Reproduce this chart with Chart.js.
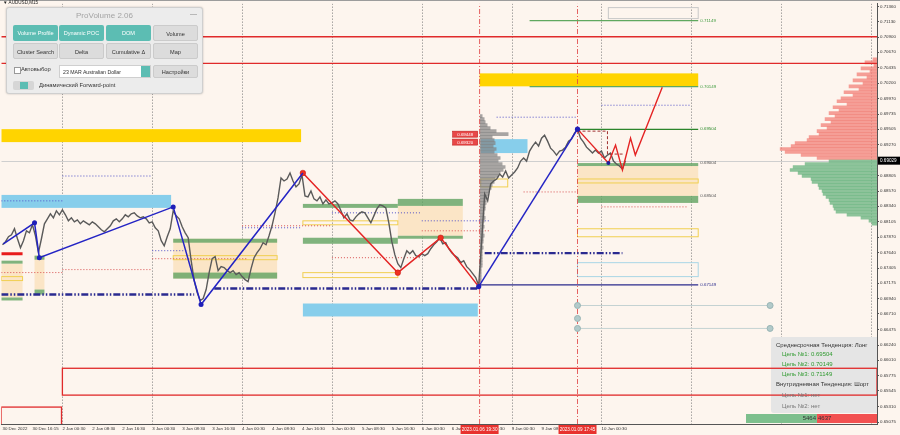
<!DOCTYPE html>
<html>
<head>
<meta charset="utf-8">
<script src="https://cdn.jsdelivr.net/npm/chart.js@4.4.1/dist/chart.umd.min.js"></script>
<style>
html, body { margin: 0; padding: 0; background: #fdf5ee; }
#wrap { position: relative; width: 900px; height: 435px; overflow: hidden; background: #fdf5ee;
  font-family: "Liberation Sans", Arial, sans-serif; }
#c { position: absolute; left: 0; top: 0; }
.sym { position: absolute; left: 3px; top: 0px; font-size: 4.6px; color: #222; white-space: nowrap; }
.panel { position: absolute; left: 6px; top: 7px; width: 195px; height: 85px; background: #ececec;
  border: 1px solid #cfcfcf; border-radius: 3px; box-shadow: 0 0 2px rgba(0,0,0,.25); }
.ttl { position: absolute; left: 0; right: 0; top: 3px; text-align: center; font-size: 8px; color: #a4a4a4; }
.min { position: absolute; right: 5px; top: 2px; font-size: 7px; color: #888; }
.btn { position: absolute; width: 45px; height: 16px; line-height: 16px; border-radius: 2px; font-size: 5.6px;
  text-align: center; box-sizing: border-box; white-space: nowrap; }
.teal { background: #5cbdb3; color: #fff; }
.gray { background: #dcdcdc; color: #333; border: 1px solid #cbcbcb; }
.lbl { position: absolute; font-size: 5.8px; color: #333; white-space: nowrap; line-height: 9px; }
.chk { position: absolute; left: 7px; top: 59px; width: 5px; height: 5px; background: #fff; border: 1px solid #999; }
.sel { position: absolute; left: 52px; top: 57px; width: 92px; height: 13px; line-height: 13px; background: #fff;
  border: 1px solid #cfcfcf; box-sizing: border-box; font-size: 5.2px; color: #333; padding-left: 3px; white-space: nowrap; }
.spin { position: absolute; right: 0; top: 0; width: 9px; height: 11px; background: #5cbdb3; }
.tog { position: absolute; left: 6px; top: 73px; width: 21px; height: 9px; background: #d6d6d6; border-radius: 2px; }
.tog span { position: absolute; left: 7px; top: 1px; width: 8px; height: 7px; background: #5cbdb3; }
.info { position: absolute; font-size: 6px; white-space: nowrap; line-height: 8px; }
</style>
</head>
<body>
<div id="wrap">
  <canvas id="c" width="900" height="435"></canvas>
  <div class="sym">▼ AUDUSD,M15</div>
  <div class="panel">
    <div class="ttl">ProVolume 2.06</div><div class="min">—</div>
    <div class="btn teal" style="left:6px;top:17px">Volume Profile</div>
    <div class="btn teal" style="left:52px;top:17px">Dynamic POC</div>
    <div class="btn teal" style="left:99px;top:17px">DOM</div>
    <div class="btn gray" style="left:146px;top:17px">Volume</div>
    <div class="btn gray" style="left:6px;top:35px">Cluster Search</div>
    <div class="btn gray" style="left:52px;top:35px">Delta</div>
    <div class="btn gray" style="left:99px;top:35px">Cumulative Δ</div>
    <div class="btn gray" style="left:146px;top:35px">Map</div>
    <div class="chk"></div><div class="lbl" style="left:14px;top:57px">Автовыбор</div>
    <div class="sel">23 MAR Australian Dollar<span class="spin"></span></div>
    <div class="btn gray" style="left:146px;top:57px;height:13px;line-height:12px">Настройки</div>
    <div class="tog"><span></span></div><div class="lbl" style="left:32px;top:73px">Динамический Forward-point</div>
  </div>
  <div class="info" style="left:776px;top:341px;color:#333">Среднесрочная Тенденция: Лонг</div>
  <div class="info" style="left:782px;top:350px;color:#2f9a2f">Цель №1: 0.69504</div>
  <div class="info" style="left:782px;top:360px;color:#2f9a2f">Цель №2: 0.70149</div>
  <div class="info" style="left:782px;top:370px;color:#2f9a2f">Цель №3: 0.71149</div>
  <div class="info" style="left:776px;top:380px;color:#333">Внутридневная Тенденция: Шорт</div>
  <div class="info" style="left:782px;top:391px;color:#777">Цель №1: нет</div>
  <div class="info" style="left:782px;top:402px;color:#777">Цель №2: нет</div>
  <div class="info" style="left:746px;top:414px;width:71px;height:9px;line-height:9px;background:#7dbf8d;color:#333;text-align:right;padding-right:1px;box-sizing:border-box">5464</div>
  <div class="info" style="left:817px;top:414px;width:60px;height:9px;line-height:9px;background:#f25050;color:#333;padding-left:1px;box-sizing:border-box">4637</div>
</div>
<script>
// ── axis data ────────────────────────────────────────────────
const xLabels = ['30 Dec 2022', '30 Dec 16:15', '2 Jan 00:30', '2 Jan 08:30', '2 Jan 16:30', '3 Jan 00:30',
  '3 Jan 08:30', '3 Jan 16:30', '4 Jan 00:30', '4 Jan 08:30', '4 Jan 16:30', '5 Jan 00:30', '5 Jan 08:30',
  '5 Jan 16:30', '6 Jan 00:30', '6 Jan 08:30', '6 Jan 16:30', '9 Jan 00:30', '9 Jan 08:30', '9 Jan 16:30',
  '10 Jan 00:30'];
const dayLines = [2, 5, 8, 11, 14, 17, 20, 23, 26, 29];
const yTicks = [0.71360, 0.71130, 0.70900, 0.70670, 0.70435, 0.70200, 0.69970, 0.69735, 0.69505, 0.69270,
  0.68805, 0.68570, 0.68340, 0.68105, 0.67870, 0.67640, 0.67405, 0.67175, 0.66940, 0.66710, 0.66475,
  0.66240, 0.66010, 0.65775, 0.65545, 0.65310, 0.65075];
const xMin = -0.04, xMax = 29.2, yMin = 0.65045, yMax = 0.71405;
const lastPrice = 0.69029;
const timeMarks = [[15.93, '2023.01.06 19:30'], [19.2, '2023.01.09 17:45']];

// ── price (close every 0.1 label step) ───────────────────────
const closeStart = 0, closeStep = 0.1;
const closes = [
  0.67757, 0.67803, 0.67878, 0.67908, 0.67999, 0.67848, 0.67712, 0.67818, 0.67968, 0.67938,
  0.68059, 0.67893, 0.67637, 0.67848, 0.68074, 0.68149, 0.68225, 0.68164, 0.68270, 0.68210,
  0.68285, 0.68210, 0.68119, 0.68164, 0.68104, 0.68134, 0.68074, 0.68119, 0.68089, 0.68059,
  0.68104, 0.68074, 0.68029, 0.67984, 0.67953, 0.67999, 0.68044, 0.68119, 0.68149, 0.68104,
  0.68149, 0.68210, 0.68179, 0.68225, 0.68240, 0.68194, 0.68164, 0.68179, 0.68149, 0.68089,
  0.68104, 0.68014, 0.67968, 0.67818, 0.67742, 0.67878, 0.67999, 0.68270, 0.68194, 0.68149,
  0.68029, 0.67938, 0.67863, 0.67516, 0.67215, 0.67034, 0.66913, 0.66944, 0.67079, 0.67335,
  0.67546, 0.67577, 0.67366, 0.67426, 0.67411, 0.67366, 0.67335, 0.67366, 0.67305, 0.67335,
  0.67275, 0.67230, 0.67200, 0.67396, 0.67561, 0.67637, 0.67697, 0.67788, 0.67757, 0.67893,
  0.68044, 0.68240, 0.68466, 0.68767, 0.68722, 0.68752, 0.68843, 0.68722, 0.68632, 0.68677,
  0.68812, 0.68496, 0.68481, 0.68571, 0.68451, 0.68421, 0.68481, 0.68375, 0.68436, 0.68375,
  0.68390, 0.68421, 0.68375, 0.68270, 0.68164, 0.68225, 0.68134, 0.68119, 0.68179, 0.68225,
  0.68255, 0.68240, 0.68164, 0.68089, 0.68194, 0.68300, 0.68360, 0.68345, 0.68315, 0.68089,
  0.67803, 0.67607, 0.67471, 0.67411, 0.67546, 0.67667, 0.67622, 0.67667, 0.67592, 0.67577,
  0.67622, 0.67592, 0.67622, 0.67697, 0.67757, 0.67803, 0.67863, 0.67772, 0.67788, 0.67697,
  0.67637, 0.67592, 0.67561, 0.67486, 0.67516, 0.67426, 0.67381, 0.67320, 0.67260, 0.67139,
  0.67818, 0.68526, 0.68421, 0.68677, 0.68722, 0.68752, 0.68827, 0.68782, 0.68873, 0.68767,
  0.68812, 0.68858, 0.68918, 0.69023, 0.69069, 0.69023, 0.69174, 0.69250, 0.69310, 0.69250,
  0.69370, 0.69415, 0.69325, 0.69219, 0.69174, 0.69114, 0.69174, 0.69189, 0.69234, 0.69325,
  0.69355, 0.69446, 0.69506, 0.69370, 0.69310, 0.69234, 0.69189, 0.69144, 0.69189, 0.69144,
  0.69174, 0.69069, 0.69114, 0.69144, 0.69023, 0.68978, 0.68948, 0.68903, 0.69029
];

// ── zigzags ──────────────────────────────────────────────────
const blueZigT = [0.03, 1.07, 1.23, 5.7, 6.63, 10.03];
const blueZigP = [0.67772, 0.68089, 0.67561, 0.68330, 0.66853, 0.68843];
const redZigT = [10.03, 13.2, 14.63, 15.9];
const redZigP = [0.68843, 0.67335, 0.67863, 0.67124];
const blueZig2T = [15.9, 19.2];
const blueZig2P = [0.67124, 0.69506];
const fwdT = [19.2, 20.23, 20.47, 20.7, 20.97, 21.13, 22.03];
const fwdP = [0.69506, 0.68993, 0.69265, 0.68888, 0.69370, 0.69114, 0.70139];
const boxT = [19.2, 20.2, 20.2, 20.73];
const boxP = [0.69476, 0.69476, 0.69129, 0.69129];

// ── levels [from, to, price] ─────────────────────────────────
const redLevels = [[xMin, xMax, 0.70905], [xMin, xMax, 0.70501]];
const greenLevels = [[17.6, 23.23, 0.71149], [17.6, 23.23, 0.70149], [19.2, 23.23, 0.69504]];
const navyLevels = [[15.93, 23.23, 0.67149]];
const navyDashLevels = [[xMin, 6.4, 0.67004], [7.07, 15.87, 0.67094], [16.1, 20.7, 0.67630]];
const blueDotLevels = [[2.0, 5.0, 0.68797], [xMin, 2.0, 0.68421], [5.0, 6.2, 0.67667], [8.0, 10.0, 0.68014],
  [11.0, 14.0, 0.68240], [14.0, 16.3, 0.68119], [20.0, 23.0, 0.69868], [16.5, 19.2, 0.69687]];
const redDotLevels = [[2.0, 5.0, 0.67381], [xMin, 2.0, 0.67336], [5.0, 8.2, 0.67546], [8.0, 11.0, 0.68044],
  [11.0, 14.0, 0.67561], [14.0, 16.3, 0.67968], [20.0, 22.9, 0.68330], [17.4, 19.2, 0.68556]];
const redBar = [xMin, 0.67, 0.67622];
const grayLinks = [[19.2, 25.63, 0.66838], [19.2, 25.63, 0.66491]];
const grayDotT = [19.2, 19.2, 19.2, 25.63, 25.63];
const grayDotP = [0.66838, 0.66642, 0.66491, 0.66838, 0.66491];
const levelTags = [[0.71149, '0.71149', '#3a9a3a'], [0.70149, '0.70149', '#3a9a3a'], [0.69504, '0.69504', '#2a8a2a'],
  [0.69004, '0.69004', '#555'], [0.68504, '0.68504', '#555'], [0.67149, '0.67149', '#2a2a8c']];
const priceTags = [[0.69430, '0.69448'], [0.69310, '0.69320']];

// ── zones [from, to, top, bottom] ────────────────────────────
const goldZones = [[xMin, 9.97, 0.69506, 0.69310], [15.93, 23.23, 0.70350, 0.70154]];
const skyZones = [[xMin, 5.63, 0.68511, 0.68315], [10.03, 15.87, 0.66868, 0.66672], [15.97, 17.53, 0.69355, 0.69144]];
const beigeZones = [[xMin, 0.67, 0.67471, 0.66959], [1.07, 1.4, 0.67592, 0.67079], [5.7, 9.17, 0.67848, 0.67245],
  [13.2, 15.37, 0.68345, 0.67893], [19.2, 23.23, 0.68948, 0.68496]];
const greenZones = [[xMin, 0.67, 0.67516, 0.67471], [xMin, 0.67, 0.66959, 0.66914], [1.07, 1.4, 0.67592, 0.67531],
  [1.07, 1.4, 0.67079, 0.67004], [5.7, 9.17, 0.67848, 0.67788], [5.7, 9.17, 0.67336, 0.67245],
  [10.03, 13.2, 0.68375, 0.68315], [13.2, 15.37, 0.68451, 0.68345], [10.03, 13.2, 0.67863, 0.67772],
  [13.2, 15.37, 0.67893, 0.67848], [19.2, 23.23, 0.68993, 0.68948], [19.2, 23.23, 0.68496, 0.68390]];
const yellowBoxes = [[xMin, 0.67, 0.67275, 0.67215], [5.7, 9.17, 0.67592, 0.67531], [10.03, 13.2, 0.68119, 0.68059],
  [10.03, 13.2, 0.67335, 0.67260], [15.97, 16.87, 0.68752, 0.68632], [19.2, 23.23, 0.68752, 0.68692],
  [19.2, 23.23, 0.67999, 0.67878]];
const lightBlueBoxes = [[19.2, 23.23, 0.67486, 0.67275]];
const grayBoxes = [[20.23, 23.23, 0.71345, 0.71179]];
const redBoxes = [[2.0, xMax, 0.65888, 0.65482], [xMin, 1.97, 0.65301, 0.64990]];

// ── volume profiles ──────────────────────────────────────────
const profTop = 0.70561, profStep = 0.000452;
const sellVol = [4, 12, 3, 16, 7, 20, 10, 24, 14, 28, 18, 33, 24, 36, 40, 30, 44, 38, 48, 42, 52, 46, 56, 50,
  60, 58, 68, 70, 82, 86, 97, 92, 76, 60];
const buyVol = [48, 72, 84, 87, 79, 75, 66, 65, 59, 58, 55, 54, 51, 48, 47, 44, 43, 41, 30, 16, 8, 5];
const sessionFirst = 19, sessionStart = 15.95;
const sessionVol = [2, 4, 5, 7, 10, 16, 28, 12, 14, 15, 13, 16, 14, 17, 20, 18, 22, 25, 23, 20, 18, 15, 14, 12,
  11, 9, 8, 7, 6, 6, 5, 5, 4, 4, 5, 4, 3, 4, 3, 3, 4, 3, 3, 2, 3, 2, 2, 2, 2, 2, 2, 1, 1, 1, 1, 1];
const volToSlots = 1 / 30;

const FONT = '"Liberation Sans", Arial, sans-serif';
Chart.defaults.font.family = FONT;

const pts = (ts, ps) => ts.map((t, i) => ({ x: t, y: ps[i] }));
const seg = l => [{ x: l[0], y: l[2] }, { x: l[1], y: l[2] }];
function lineDs(data, color, width, dash, order, extra) {
  return Object.assign({ type: 'line', data, borderColor: color, borderWidth: width, borderDash: dash || [],
    pointRadius: 0, fill: false, tension: 0, order }, extra || {});
}
function barDs(data, color) {
  return { type: 'bar', indexAxis: 'y', data, backgroundColor: color, borderWidth: 0, grouped: false,
    barPercentage: 1, categoryPercentage: 1, maxBarThickness: 3, order: 40 };
}

const datasets = [];
// profiles
datasets.push(barDs(sellVol.map((v, i) => ({ y: profTop - i * profStep, x: [xMax - v * volToSlots, xMax] })), 'rgba(242,128,120,0.75)'));
datasets.push(barDs(buyVol.map((v, i) => ({ y: profTop - (i + sellVol.length) * profStep, x: [xMax - v * volToSlots, xMax] })), 'rgba(112,182,132,0.8)'));
datasets.push(barDs(sessionVol.map((v, i) => ({ y: profTop - (i + sessionFirst) * profStep, x: [sessionStart, sessionStart + v * volToSlots] })), 'rgba(130,130,130,0.7)'));
// vertical time marks
timeMarks.forEach(m => datasets.push(lineDs([{ x: m[0], y: yMin }, { x: m[0], y: yMax }], 'rgba(225,70,70,0.85)', 1, [5, 2, 1, 2], 30)));
// levels
redLevels.forEach(l => datasets.push(lineDs(seg(l), '#e02a2a', 1.4, [], 20)));
greenLevels.forEach((l, i) => datasets.push(lineDs(seg(l), i === 2 ? '#2b852b' : '#5fa85f', 1.2, [], 20)));
navyLevels.forEach(l => datasets.push(lineDs(seg(l), '#2a2a8c', 1.2, [], 20)));
navyDashLevels.forEach(l => datasets.push(lineDs(seg(l), '#2a2a90', 2.4, [7, 2, 1.5, 2, 1.5, 2], 20)));
blueDotLevels.forEach(l => datasets.push(lineDs(seg(l), '#5050c8', 1, [1, 2], 20)));
redDotLevels.forEach(l => datasets.push(lineDs(seg(l), '#d85050', 1, [1, 2], 20)));
datasets.push(lineDs(seg(redBar), '#e81c1c', 3, [], 20));
grayLinks.forEach(l => datasets.push(lineDs(seg(l), '#c4d2d2', 1, [], 20)));
datasets.push(lineDs(pts(grayDotT, grayDotP), 'transparent', 0, [], 19,
  { showLine: false, pointRadius: 3, pointBackgroundColor: '#b2caca', pointBorderColor: '#98b4b4', pointBorderWidth: 1 }));
// price
datasets.push(lineDs(closes.map((p, i) => ({ x: closeStart + i * closeStep, y: p })), '#5a5a5a', 1.4, [], 10));
// zigzags
datasets.push(lineDs(pts(boxT, boxP), '#a03030', 1, [3, 2], 5));
datasets.push(lineDs(pts(blueZigT, blueZigP), '#2424c4', 1.5, [], 2,
  { pointRadius: [0, 2.5, 2.5, 2.5, 2.5, 0], pointBackgroundColor: '#1e1eb8', pointBorderWidth: 0 }));
datasets.push(lineDs(pts(redZigT, redZigP), '#e42424', 1.5, [], 2,
  { pointRadius: [2.8, 2.8, 2.8, 0], pointBackgroundColor: '#f03020', pointBorderColor: '#c01010', pointBorderWidth: 0.5 }));
datasets.push(lineDs(pts(blueZig2T, blueZig2P), '#2424c4', 1.5, [], 1,
  { pointRadius: 2.6, pointBackgroundColor: '#1e1eb8', pointBorderWidth: 0 }));
datasets.push(lineDs(pts(fwdT, fwdP), '#e42424', 1.4, [], 1,
  { pointRadius: [0, 2, 0, 0, 0, 0, 0], pointBackgroundColor: '#1e1e9c', pointBorderWidth: 0 }));

// ── plugins ──────────────────────────────────────────────────
const zonesPlugin = {
  id: 'zones',
  beforeDatasetsDraw(chart) {
    const { ctx, chartArea: a, scales: { x, y } } = chart;
    const r = z => {
      const x0 = x.getPixelForValue(z[0]), x1 = x.getPixelForValue(z[1]);
      const y0 = y.getPixelForValue(z[2]), y1 = y.getPixelForValue(z[3]);
      return [x0, y0, x1 - x0, y1 - y0];
    };
    ctx.save();
    ctx.beginPath(); ctx.rect(a.left, a.top, a.width, a.height); ctx.clip();
    // day grid
    ctx.strokeStyle = '#7a7a7a'; ctx.lineWidth = 1; ctx.setLineDash([1, 2]);
    dayLines.forEach(t => {
      const px = Math.round(x.getPixelForValue(t)) + 0.5;
      ctx.beginPath(); ctx.moveTo(px, a.top); ctx.lineTo(px, a.bottom); ctx.stroke();
    });
    ctx.setLineDash([]);
    // current price line
    const py = Math.round(y.getPixelForValue(lastPrice)) + 0.5;
    ctx.strokeStyle = '#cfcfcf';
    ctx.beginPath(); ctx.moveTo(a.left, py); ctx.lineTo(a.right, py); ctx.stroke();
    // fills
    ctx.fillStyle = '#fbe5c6'; beigeZones.forEach(z => ctx.fillRect(...r(z)));
    ctx.fillStyle = '#ffd400'; goldZones.forEach(z => ctx.fillRect(...r(z)));
    ctx.fillStyle = '#87ceeb'; skyZones.forEach(z => ctx.fillRect(...r(z)));
    ctx.fillStyle = 'rgba(96,162,96,0.8)'; greenZones.forEach(z => ctx.fillRect(...r(z)));
    // outlines
    ctx.lineWidth = 1;
    ctx.strokeStyle = '#f0cf50'; yellowBoxes.forEach(z => ctx.strokeRect(...r(z)));
    ctx.strokeStyle = '#a9d6e6'; lightBlueBoxes.forEach(z => ctx.strokeRect(...r(z)));
    ctx.strokeStyle = '#c8c8c8'; grayBoxes.forEach(z => ctx.strokeRect(...r(z)));
    // info panel background
    ctx.fillStyle = '#e5e5e5';
    ctx.beginPath(); ctx.roundRect(771, 337, 110, 76, 3); ctx.fill();
    ctx.strokeStyle = '#e02a2a'; ctx.lineWidth = 1.3;
    redBoxes.forEach(z => ctx.strokeRect(...r(z)));
    ctx.restore();
  },
  afterDraw(chart) {
    const { ctx, chartArea: a, scales: { x, y } } = chart;
    ctx.save();
    ctx.textBaseline = 'middle';
    // level tags
    ctx.font = '4.4px ' + FONT; ctx.textAlign = 'left';
    levelTags.forEach(t => { ctx.fillStyle = t[2]; ctx.fillText(t[1], x.getPixelForValue(23.3), y.getPixelForValue(t[0])); });
    // red price tags
    priceTags.forEach(t => {
      const cy = y.getPixelForValue(t[0]);
      const x1 = x.getPixelForValue(15.9);
      ctx.fillStyle = '#e84848'; ctx.fillRect(x1 - 26, cy - 3, 25, 6);
      ctx.strokeStyle = '#c02020'; ctx.lineWidth = 0.6; ctx.strokeRect(x1 - 26, cy - 3, 25, 6);
      ctx.fillStyle = '#fff'; ctx.textAlign = 'center'; ctx.fillText(t[1], x1 - 13.5, cy + 0.3);
    });
    // current price label
    const cy = y.getPixelForValue(lastPrice);
    ctx.fillStyle = '#000'; ctx.fillRect(a.right + 1, cy - 4, 22, 8);
    ctx.fillStyle = '#fff'; ctx.textAlign = 'left'; ctx.font = '4.6px ' + FONT;
    ctx.fillText(lastPrice.toFixed(5), a.right + 3, cy + 0.3);
    // time marks on the axis
    timeMarks.forEach(m => {
      const px = x.getPixelForValue(m[0]);
      ctx.fillStyle = '#e8322e'; ctx.fillRect(px - 19, a.bottom + 1, 38, 9);
      ctx.fillStyle = '#fff'; ctx.textAlign = 'center'; ctx.font = '4.6px ' + FONT;
      ctx.fillText(m[1], px, a.bottom + 5.8);
    });
    // window top edge
    ctx.fillStyle = '#9c9c9c'; ctx.fillRect(0, 0, 900, 1);
    ctx.restore();
  }
};

new Chart(document.getElementById('c'), {
  type: 'line',
  data: { datasets },
  options: {
    responsive: false, animation: false, devicePixelRatio: 1, events: [],
    layout: { autoPadding: false, padding: { top: 2, left: 0, right: 0, bottom: 0 } },
    plugins: { legend: { display: false }, tooltip: { enabled: false } },
    scales: {
      x: {
        type: 'linear', min: xMin, max: xMax, offset: false,
        grid: { display: false, drawTicks: false },
        border: { display: true, color: '#555', width: 1 },
        afterBuildTicks: s => { s.ticks = xLabels.map((_, i) => ({ value: i })); },
        afterFit: s => { s.height = 11; },
        ticks: { callback: (v, i) => xLabels[i], align: 'start', maxRotation: 0, minRotation: 0, autoSkip: false,
          font: { size: 4.4, family: FONT }, color: '#333', padding: 2.5 }
      },
      y: {
        type: 'linear', position: 'right', min: yMin, max: yMax, offset: false,
        grid: { display: true, drawOnChartArea: false, drawTicks: true, tickLength: 2, color: '#555', offset: false },
        border: { display: true, color: '#555', width: 1 },
        afterBuildTicks: s => { s.ticks = yTicks.map(v => ({ value: v })); },
        afterFit: s => { s.width = 23; },
        ticks: { callback: v => v.toFixed(5), autoSkip: false, font: { size: 4.4, family: FONT }, color: '#333', padding: 1 }
      }
    }
  },
  plugins: [zonesPlugin]
});
</script>
</body>
</html>
